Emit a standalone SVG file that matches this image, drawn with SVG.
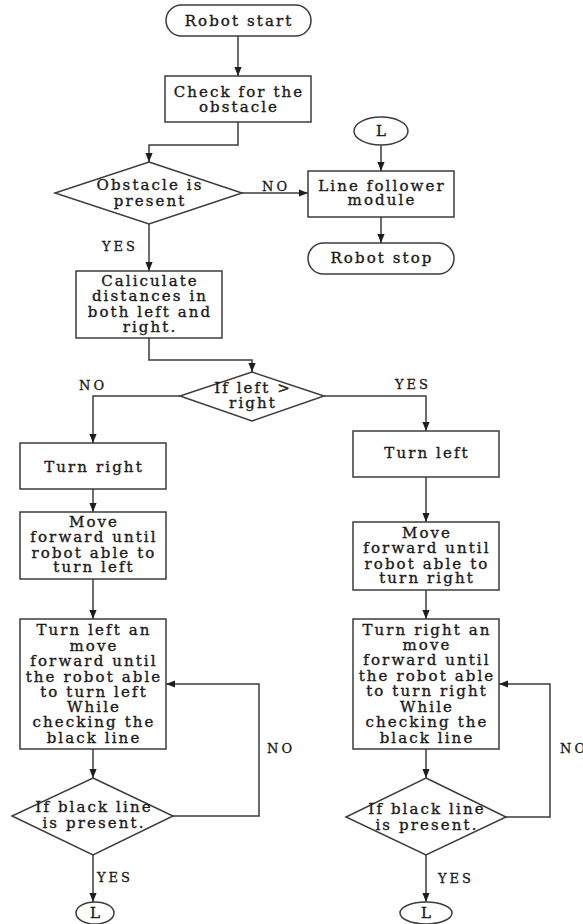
<svg xmlns="http://www.w3.org/2000/svg" width="583" height="924" viewBox="0 0 583 924">
<defs>
<style>
.s{fill:#fff;stroke:#3c3c3c;stroke-width:1.5}
.c{fill:none;stroke:#3c3c3c;stroke-width:1.5}
.t{font-family:"DejaVu Serif","Liberation Serif",serif;font-size:15px;letter-spacing:2.1px;fill:#1a1a1a;stroke:#1a1a1a;stroke-width:0.35;text-anchor:middle}
.l{font-family:"DejaVu Serif","Liberation Serif",serif;font-size:13px;letter-spacing:3px;fill:#1a1a1a;stroke:#1a1a1a;stroke-width:0.3}
</style>
<marker id="ah" viewBox="0 0 10 10" refX="10" refY="5" markerWidth="9" markerHeight="9" markerUnits="userSpaceOnUse" orient="auto"><path d="M0,1 L10,5 L0,9z" fill="#1e1e1e"/></marker>
</defs>
<rect width="583" height="924" fill="#fff"/>
<g id="connectors" class="c" marker-end="url(#ah)">
<path d="M238,36 V76"/>
<path d="M238,122 V145 H149 V162"/>
<path d="M242,193 H308"/>
<path d="M381,145 V171"/>
<path d="M381,217 V243"/>
<path d="M149,224 V271"/>
<path d="M149,338 V360 H252 V372"/>
<path d="M180,396 H93 V443"/>
<path d="M324,396 H426 V431"/>
<path d="M93,489 V512"/>
<path d="M93,579 V619"/>
<path d="M93,749 V778"/>
<path d="M173,816 H259 V684 H166"/>
<path d="M93,855 V902"/>
<path d="M426,477 V522"/>
<path d="M426,590 V619"/>
<path d="M426,749 V778"/>
<path d="M506,817 H550 V684 H499"/>
<path d="M426,855 V902"/>
</g>
<g id="labels">
<text class="l" x="262" y="191">NO</text>
<text class="l" x="102" y="251">YES</text>
<text class="l" x="79" y="390">NO</text>
<text class="l" x="395" y="389">YES</text>
<text class="l" x="267" y="753">NO</text>
<text class="l" x="560" y="753">NO</text>
<text class="l" x="97" y="882">YES</text>
<text class="l" x="438" y="883">YES</text>
</g>
<g id="start"><rect class="s" x="166" y="5" width="145" height="31" rx="15.5"/><text class="t" x="239" y="26">Robot start</text></g>
<g id="check"><rect class="s" x="165" y="76" width="146" height="46"/><text class="t" x="239" y="97">Check for the</text><text class="t" x="239" y="112">obstacle</text></g>
<g id="obstacle"><polygon class="s" points="149,162 242,193 149,224 55,193"/><text class="t" x="150" y="190">Obstacle is</text><text class="t" x="150" y="206">present</text></g>
<g id="L-top"><ellipse class="s" cx="381" cy="131" rx="27" ry="14"/><text class="t" x="382" y="136">L</text></g>
<g id="linefollower"><rect class="s" x="308" y="171" width="146" height="46"/><text class="t" x="382" y="191">Line follower</text><text class="t" x="382" y="205">module</text></g>
<g id="stop"><rect class="s" x="308" y="243" width="146" height="31" rx="15.5"/><text class="t" x="382" y="263">Robot stop</text></g>
<g id="calc"><rect class="s" x="76" y="271" width="146" height="67"/><text class="t" x="150" y="286">Caliculate</text><text class="t" x="150" y="301">distances in</text><text class="t" x="150" y="317">both left and</text><text class="t" x="150" y="332">right.</text></g>
<g id="ifleft"><polygon class="s" points="252,372 324,396 252,421 180,396"/><text class="t" x="253" y="393">If left &gt;</text><text class="t" x="253" y="408">right</text></g>
<g id="turnright"><rect class="s" x="20" y="443" width="146" height="46"/><text class="t" x="94" y="472">Turn right</text></g>
<g id="moveleft"><rect class="s" x="20" y="512" width="146" height="67"/><text class="t" x="94" y="527">Move</text><text class="t" x="94" y="542">forward until</text><text class="t" x="94" y="558">robot able to</text><text class="t" x="94" y="572">turn left</text></g>
<g id="turnleftmove"><rect class="s" x="20" y="619" width="146" height="130"/><text class="t" x="94" y="635">Turn left an</text><text class="t" x="94" y="651">move</text><text class="t" x="94" y="666">forward until</text><text class="t" x="94" y="682">the robot able</text><text class="t" x="94" y="697">to turn left</text><text class="t" x="94" y="712">While</text><text class="t" x="94" y="727">checking the</text><text class="t" x="94" y="743">black line</text></g>
<g id="blackleft"><polygon class="s" points="93,778 173,816 93,855 12,816"/><text class="t" x="94" y="812">If black line</text><text class="t" x="94" y="828">is present.</text></g>
<g id="L-left"><ellipse class="s" cx="95" cy="913" rx="19" ry="11"/><text class="t" x="96" y="918">L</text></g>
<g id="turnleft"><rect class="s" x="353" y="431" width="146" height="46"/><text class="t" x="427" y="458">Turn left</text></g>
<g id="moveright"><rect class="s" x="353" y="522" width="146" height="68"/><text class="t" x="427" y="538">Move</text><text class="t" x="427" y="553">forward until</text><text class="t" x="427" y="569">robot able to</text><text class="t" x="427" y="583">turn right</text></g>
<g id="turnrightmove"><rect class="s" x="353" y="619" width="146" height="130"/><text class="t" x="427" y="635">Turn right an</text><text class="t" x="427" y="650">move</text><text class="t" x="427" y="665">forward until</text><text class="t" x="427" y="681">the robot able</text><text class="t" x="427" y="696">to turn right</text><text class="t" x="427" y="712">While</text><text class="t" x="427" y="727">checking the</text><text class="t" x="427" y="743">black line</text></g>
<g id="blackright"><polygon class="s" points="426,778 506,817 426,855 346,817"/><text class="t" x="427" y="814">If black line</text><text class="t" x="427" y="830">is present.</text></g>
<g id="L-right"><ellipse class="s" cx="426" cy="913" rx="26" ry="11"/><text class="t" x="427" y="918">L</text></g>
</svg>
